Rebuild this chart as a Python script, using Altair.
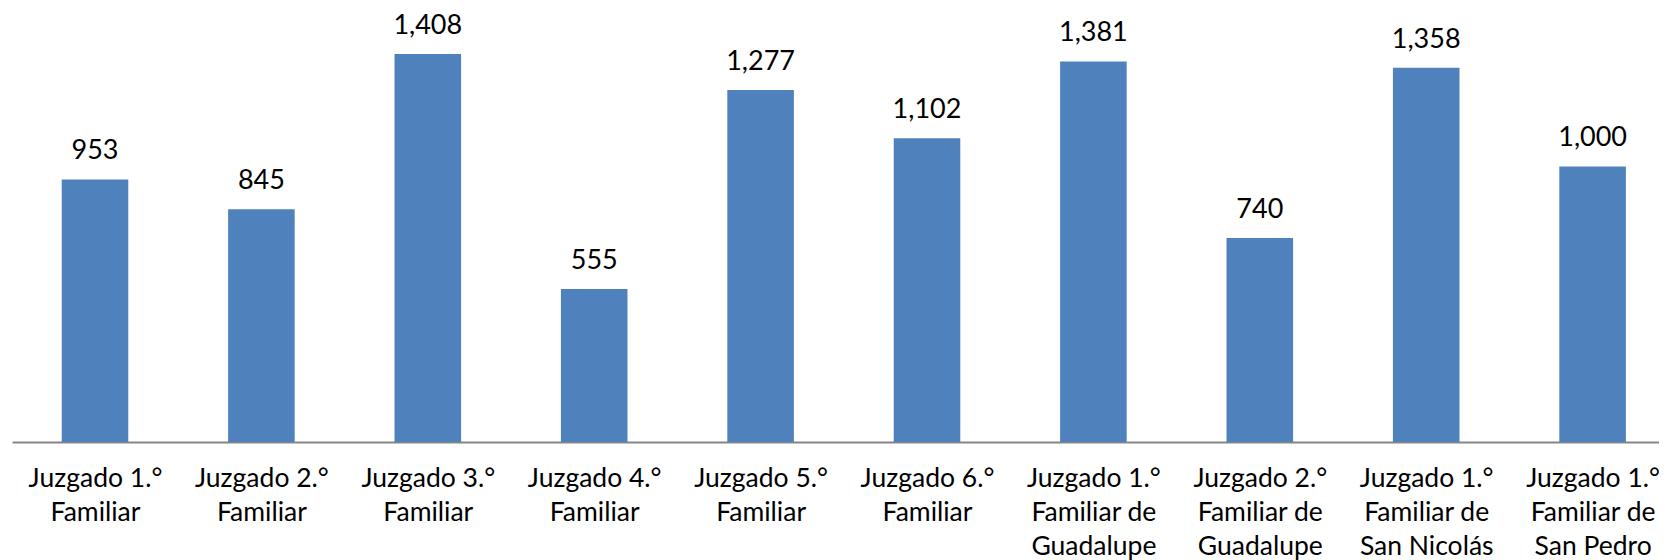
import json
import altair as alt
import pandas as pd

categories = [
    "Juzgado 1.°\nFamiliar",
    "Juzgado 2.°\nFamiliar",
    "Juzgado 3.°\nFamiliar",
    "Juzgado 4.°\nFamiliar",
    "Juzgado 5.°\nFamiliar",
    "Juzgado 6.°\nFamiliar",
    "Juzgado 1.°\nFamiliar de\nGuadalupe",
    "Juzgado 2.°\nFamiliar de\nGuadalupe",
    "Juzgado 1.°\nFamiliar de\nSan Nicolás",
    "Juzgado 1.°\nFamiliar de\nSan Pedro",
]
values = [953, 845, 1408, 555, 1277, 1102, 1381, 740, 1358, 1000]

positions = list(range(len(categories)))
df = pd.DataFrame({"pos": positions, "juzgado": categories, "valor": values})
df["left"] = df["pos"] - 0.2
df["right"] = df["pos"] + 0.2

FONT = "Lato"
FS = 27
AXIS_FS = 26.5

label_lookup = json.dumps(categories, ensure_ascii=False)

xscale = alt.Scale(domain=[-0.4988, 9.399], nice=False, zero=False)
xaxis = alt.Axis(
    values=positions,
    labelExpr="split(" + label_lookup + "[datum.value], '\\n')",
    labelAngle=0,
    labelFont=FONT,
    labelFontSize=AXIS_FS,
    labelColor="#000000",
    labelBaseline="alphabetic",
    labelAlign="center",
    labelLineHeight=34,
    labelPadding=44,
    labelLimit=400,
    labelFlush=False,
    labelOverlap=False,
    ticks=False,
    domainColor="#868686",
    domainWidth=2,
    grid=False,
)
y = alt.Y("valor:Q", axis=None, scale=alt.Scale(domain=[0, 1575], nice=False))

bars = alt.Chart(df).mark_bar(color="#4F81BD").encode(
    x=alt.X("left:Q", scale=xscale, axis=xaxis, title=None),
    x2="right:Q",
    y=y,
    y2=alt.datum(0),
)
text = alt.Chart(df).mark_text(
    baseline="alphabetic", dy=-20, font=FONT, fontSize=FS, color="#000000"
).encode(
    x=alt.X("pos:Q", scale=xscale, title=None),
    y=y,
    text=alt.Text("valor:Q", format=",d"),
)

chart = (
    alt.layer(bars, text)
    .properties(
        width=1647,
        height=434,
        autosize=alt.AutoSizeParams(type="none"),
        padding={"left": 4, "top": 0, "right": 0, "bottom": 118},
    )
    .configure_view(stroke=None)
)

chart.save("out.html", embed_options={"renderer": "svg", "actions": False})
